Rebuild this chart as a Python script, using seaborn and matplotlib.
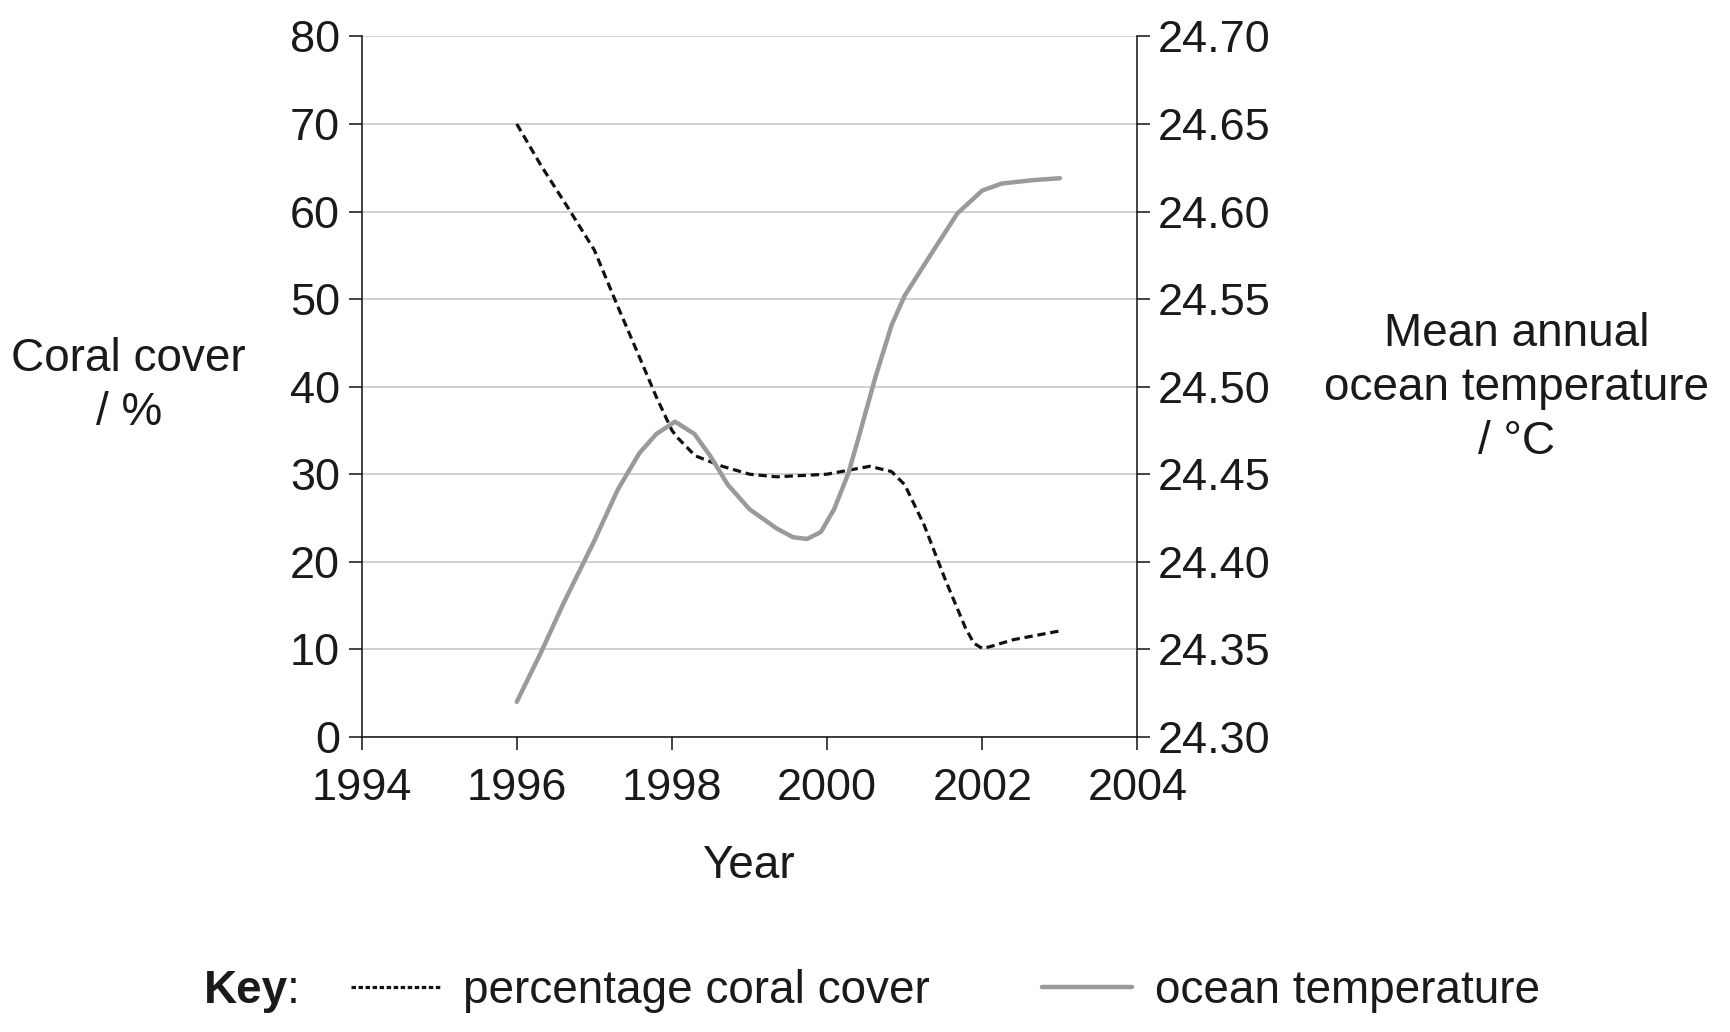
import pandas as pd
import matplotlib.pyplot as plt
import seaborn as sns
from matplotlib.lines import Line2D

sns.set_style("white")
plt.rcParams['font.family'] = ['Liberation Sans', 'DejaVu Sans']

# values (year, value)
coral_years = [1996.0, 1996.31, 1996.67, 1997.0, 1997.3, 1997.58, 1997.8, 1998.0,
               1998.08, 1998.3, 1998.65, 1999.0, 1999.35, 2000.0, 2000.55, 2000.83,
               2001.0, 2001.25, 2001.53, 2001.78, 2001.89, 2002.0, 2002.1, 2002.4,
               2003.0]
coral_cover = [70.0, 65.3, 60.3, 55.6, 49.2, 43.4, 38.8, 35.0,
               34.1, 32.1, 30.9, 30.0, 29.7, 30.0, 30.9, 30.3,
               28.8, 24.2, 17.8, 12.5, 10.7, 10.1, 10.3, 11.1,
               12.1]

temp_years = [1996.0, 1996.31, 1996.6, 1997.0, 1997.3, 1997.58, 1997.8, 1998.04,
              1998.29, 1998.5, 1998.72, 1999.0, 1999.35, 1999.56, 1999.74, 1999.92,
              2000.09, 2000.27, 2000.4, 2000.62, 2000.83, 2001.0, 2001.33, 2001.68,
              2002.0, 2002.25, 2002.67, 2003.0]
ocean_temp = [24.320, 24.348, 24.376, 24.412, 24.441, 24.462, 24.473, 24.480,
              24.473, 24.460, 24.444, 24.430, 24.419, 24.414, 24.413, 24.417,
              24.430, 24.450, 24.470, 24.505, 24.535, 24.552, 24.575, 24.599,
              24.612, 24.616, 24.618, 24.619]

x_ticks = [1994, 1996, 1998, 2000, 2002, 2004]
left_ticks = [0, 10, 20, 30, 40, 50, 60, 70, 80]
right_ticks = [24.30, 24.35, 24.40, 24.45, 24.50, 24.55, 24.60, 24.65, 24.70]

coral_df = pd.DataFrame({"year": coral_years, "cover": coral_cover})
temp_df = pd.DataFrame({"year": temp_years, "temp": ocean_temp})

fig = plt.figure(figsize=(17.3, 10.32), dpi=100)
ax = fig.add_axes([0.209, 0.286, 0.4485, 0.6787])
ax2 = ax.twinx()

FS = 33
TFS = 32.5
txt = '#1a1a1a'

sns.lineplot(data=coral_df, x="year", y="cover", ax=ax, color='#111111',
             linewidth=2.3, linestyle=(0, (2.6, 1.5)), sort=False, zorder=3)
sns.lineplot(data=temp_df, x="year", y="temp", ax=ax2, color='#9a9a9a',
             linewidth=3.2, sort=False, zorder=2)

ax.set_xlim(1994, 2004)
ax.set_ylim(0, 80)
ax2.set_ylim(24.30, 24.70)
ax.set_xticks(x_ticks)
ax.set_yticks(left_ticks)
ax2.set_yticks(right_ticks)
ax2.set_yticklabels([f"{v:.2f}" for v in right_ticks])

ax.grid(axis='y', color='#c8c8c8', linewidth=1.2)
ax.set_axisbelow(True)
ax2.grid(False)

for a in (ax, ax2):
    a.spines['top'].set_visible(False)
    for s in ('left', 'right', 'bottom'):
        a.spines[s].set_color('#111111')
        a.spines[s].set_linewidth(1.1)
ax.spines['right'].set_visible(False)
ax2.spines['left'].set_visible(False)
ax2.spines['bottom'].set_visible(False)

ax.tick_params(axis='y', direction='out', length=9.5, width=1.1,
               color='#111111', labelsize=TFS, labelcolor=txt, pad=6, left=True)
ax.tick_params(axis='x', direction='out', length=9.5, width=1.1,
               color='#111111', labelsize=TFS, labelcolor=txt, pad=13, bottom=True)
ax2.tick_params(axis='y', direction='out', length=9.5, width=1.1,
                color='#111111', labelsize=TFS, labelcolor=txt, pad=5, right=True)

ax.set_xlabel("Year", fontsize=FS, color=txt)
ax.xaxis.set_label_coords(0.498, -0.153)
ax.set_ylabel("Coral cover\n/ %", fontsize=FS, color=txt, rotation=0,
              ha='center', va='center', linespacing=1.3)
ax.yaxis.set_label_coords(-0.300, 0.501)
ax2.set_ylabel("Mean annual\nocean temperature\n/ °C", fontsize=FS, color=txt,
               rotation=0, ha='center', va='center', linespacing=1.3)
ax2.yaxis.set_label_coords(1.489, 0.498)

# key
ky = 1 - 991 / 1032
fig.text(204 / 1730, ky, "Key", fontsize=FS, fontweight='bold', color=txt, va='center')
fig.text(287 / 1730, ky, ":", fontsize=FS, color=txt, va='center')
handles = [Line2D([], [], color='#111111', linewidth=2.3, linestyle=(0, (1.4, 0.8))),
           Line2D([], [], color='#9a9a9a', linewidth=3.2)]
fig.legend(handles, ["percentage coral cover", "ocean temperature"],
           loc='center left', bbox_to_anchor=(351 / 1730, ky), ncol=2,
           frameon=False, fontsize=FS, handlelength=1.95, handletextpad=0.5,
           columnspacing=2.45, borderpad=0, borderaxespad=0, labelcolor=txt)

fig.savefig("out.png", dpi=100)
